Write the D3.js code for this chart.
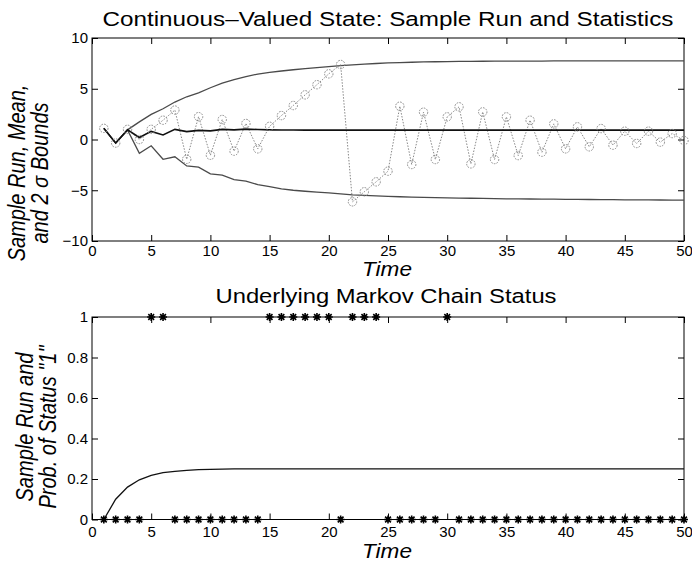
<!DOCTYPE html>
<html><head><meta charset="utf-8">
<script src="https://cdn.jsdelivr.net/npm/d3@7"></script>
<style>
body{margin:0;background:#fff;}
text{font-family:"Liberation Sans",Arial,Helvetica,sans-serif;fill:#000;}
</style></head>
<body>
<svg id="c" width="692" height="564"></svg>
<script>
const times = d3.range(1, 51);
const sampleRun = [1.1, -0.35, 1.0, 0.0, 1.0, 1.9, 2.9, -1.95, 2.25, -1.55, 1.97, -1.15, 1.58, -0.92, 1.3, 2.36, 3.35, 4.4, 5.4, 6.47, 7.39, -6.14, -5.15, -4.17, -3.12, 3.28, -2.46, 2.69, -1.97, 2.23, 3.22, -2.4, 2.72, -1.97, 2.23, -1.58, 1.9, -1.25, 1.54, -0.92, 1.25, -0.72, 1.08, -0.56, 0.82, -0.39, 0.82, -0.26, 0.59, -0.1];
const meanVals = [1.1, -0.35, 0.95, 0.2, 0.8, 0.45, 1.0, 0.78, 0.9, 0.85, 1.0, 0.95, 1.02, 0.98, 0.95, 0.93, 0.93, 0.92, 0.92, 0.92, 0.92, 0.92, 0.92, 0.92, 0.92, 0.92, 0.92, 0.92, 0.92, 0.92, 0.92, 0.92, 0.92, 0.92, 0.92, 0.92, 0.92, 0.92, 0.92, 0.92, 0.92, 0.92, 0.92, 0.92, 0.92, 0.92, 0.92, 0.92, 0.92, 0.92];
const upperVals = [1.1, -0.35, 0.95, 1.74, 2.47, 3.03, 3.69, 4.21, 4.6, 5.1, 5.55, 5.9, 6.2, 6.45, 6.62, 6.75, 6.87, 6.98, 7.08, 7.18, 7.28, 7.36, 7.43, 7.49, 7.54, 7.58, 7.61, 7.64, 7.66, 7.68, 7.69, 7.7, 7.71, 7.72, 7.72, 7.73, 7.73, 7.73, 7.74, 7.74, 7.74, 7.74, 7.74, 7.75, 7.75, 7.75, 7.75, 7.75, 7.75, 7.75];
const lowerVals = [1.1, -0.35, 0.95, -1.35, -0.62, -1.95, -1.7, -2.6, -2.73, -3.39, -3.52, -3.95, -4.1, -4.44, -4.65, -4.87, -5.0, -5.1, -5.18, -5.26, -5.35, -5.45, -5.51, -5.56, -5.6, -5.64, -5.67, -5.7, -5.73, -5.75, -5.77, -5.79, -5.81, -5.83, -5.84, -5.85, -5.86, -5.87, -5.88, -5.89, -5.9, -5.91, -5.92, -5.93, -5.94, -5.95, -5.95, -5.96, -5.97, -5.98];
const statusRun = [0,0,0,0,1,1,0,0,0,0,0,0,0,0,1,1,1,1,1,1,0,1,1,1,0,0,0,0,0,1,0,0,0,0,0,0,0,0,0,0,0,0,0,0,0,0,0,0,0,0];
const probOne = [0, 0.1, 0.16, 0.196, 0.218, 0.231, 0.238, 0.243, 0.246, 0.248, 0.249, 0.25, 0.25, 0.25, 0.25, 0.25, 0.25, 0.25, 0.25, 0.25, 0.25, 0.25, 0.25, 0.25, 0.25, 0.25, 0.25, 0.25, 0.25, 0.25, 0.25, 0.25, 0.25, 0.25, 0.25, 0.25, 0.25, 0.25, 0.25, 0.25, 0.25, 0.25, 0.25, 0.25, 0.25, 0.25, 0.25, 0.25, 0.25, 0.25];
const xTicks = [0,5,10,15,20,25,30,35,40,45,50];
const yTicksTop = [-10,-5,0,5,10];
const yTicksBottom = [0,0.2,0.4,0.6,0.8,1];
const yTickLabelsBottom = ["0","0.2","0.4","0.6","0.8","1"];

const svg = d3.select("#c");
const L = 92, R = 684;

function frame(g, x, y, yTicks, yFmt, xPad) {
  const [y0, y1] = y.range();
  const top = Math.min(y0, y1), bot = Math.max(y0, y1);
  const tl = 6;
  const ax = (gen, tr) => g.append("g").attr("transform", tr).call(gen)
    .call(s => s.select(".domain").remove())
    .call(s => s.selectAll("line").attr("stroke", "#000").attr("stroke-width", 1));
  ax(d3.axisBottom(x).tickValues(xTicks).tickSize(-tl).tickPadding(xPad).tickFormat(d3.format("d")), `translate(0,${bot})`)
    .selectAll("text").attr("font-size", 15).attr("dy", "0.75em");
  ax(d3.axisTop(x).tickValues(xTicks).tickSize(-tl).tickFormat(""), `translate(0,${top})`);
  ax(d3.axisLeft(y).tickValues(yTicks).tickSize(-tl).tickPadding(4).tickFormat(yFmt), `translate(${L},0)`)
    .selectAll("text").attr("font-size", 15);
  ax(d3.axisRight(y).tickValues(yTicks).tickSize(-tl).tickFormat(""), `translate(${R},0)`);
  g.selectAll(".tick text").attr("fill", "#000").attr("font-family", '"Liberation Sans",Arial,sans-serif');
  g.append("rect").attr("x", L).attr("y", top).attr("width", R - L).attr("height", bot - top)
    .attr("fill", "none").attr("stroke", "#000").attr("stroke-width", 1);
}

// ---------- Top panel ----------
const gTop = svg.append("g");
const xT = d3.scaleLinear().domain([0, 50]).range([L, R]);
const yT = d3.scaleLinear().domain([-10, 10]).range([241, 38]);
frame(gTop, xT, yT, yTicksTop, d3.format("d"), 4);

const lineT = vals => d3.line().x((d, i) => xT(times[i])).y((d) => yT(d))(vals);
gTop.append("path").attr("d", lineT(upperVals)).attr("fill", "none").attr("stroke", "#4a4a4a").attr("stroke-width", 1.3);
gTop.append("path").attr("d", lineT(lowerVals)).attr("fill", "none").attr("stroke", "#4a4a4a").attr("stroke-width", 1.3);
gTop.append("path").attr("d", lineT(sampleRun)).attr("fill", "none").attr("stroke", "#888").attr("stroke-width", 1).attr("stroke-dasharray", "1.5,1.5");
gTop.append("path").attr("d", lineT(meanVals)).attr("fill", "none").attr("stroke", "#111").attr("stroke-width", 1.6);
gTop.selectAll("circle.run").data(sampleRun).join("circle").attr("class", "run")
  .attr("cx", (d, i) => xT(times[i])).attr("cy", d => yT(d)).attr("r", 4.2)
  .attr("fill", "none").attr("stroke", "#8a8a8a").attr("stroke-width", 1).attr("stroke-dasharray", "1.6,1.2");

svg.append("text").attr("x", 388).attr("y", 26).attr("text-anchor", "middle").attr("font-size", 20.5)
  .attr("textLength", 571).attr("lengthAdjust", "spacingAndGlyphs")
  .text("Continuous\u2013Valued State: Sample Run and Statistics");
svg.append("text").attr("x", 387).attr("y", 276).attr("text-anchor", "middle").attr("font-size", 20).attr("font-style", "italic")
  .attr("textLength", 50).attr("lengthAdjust", "spacingAndGlyphs").text("Time");
const ylT = svg.append("text").attr("transform", "translate(25,173) scale(1.15,1) rotate(-90)").attr("text-anchor", "middle")
  .attr("font-size", 20).attr("font-style", "italic");
ylT.append("tspan").attr("x", 0).attr("y", 0).text("Sample Run, Mean,");
ylT.append("tspan").attr("x", 0).attr("y", 20).text("and 2 \u03c3 Bounds");

// ---------- Bottom panel ----------
const gBot = svg.append("g");
const xB = d3.scaleLinear().domain([0, 50]).range([L, R]);
const yB = d3.scaleLinear().domain([0, 1]).range([519.5, 317]);
frame(gBot, xB, yB, yTicksBottom, (d, i) => yTickLabelsBottom[i], 6);

gBot.append("path").attr("d", d3.line().x((d, i) => xB(times[i])).y(d => yB(d))(probOne))
  .attr("fill", "none").attr("stroke", "#111").attr("stroke-width", 1.3);

const starType = {
  draw(ctx, size) {
    const r = Math.sqrt(size) / 2, q = r * 0.72;
    ctx.moveTo(-r, 0); ctx.lineTo(r, 0);
    ctx.moveTo(0, -r); ctx.lineTo(0, r);
    ctx.moveTo(-q, -q); ctx.lineTo(q, q);
    ctx.moveTo(-q, q); ctx.lineTo(q, -q);
  }
};
gBot.selectAll("path.star").data(statusRun).join("path").attr("class", "star")
  .attr("transform", (d, i) => `translate(${xB(times[i])},${yB(d)})`)
  .attr("d", d3.symbol().type(starType).size(64))
  .attr("fill", "none").attr("stroke", "#000").attr("stroke-width", 1.6);

svg.append("text").attr("x", 386).attr("y", 303).attr("text-anchor", "middle").attr("font-size", 20.5)
  .attr("textLength", 341).attr("lengthAdjust", "spacingAndGlyphs").text("Underlying Markov Chain Status");
svg.append("text").attr("x", 387).attr("y", 558).attr("text-anchor", "middle").attr("font-size", 20).attr("font-style", "italic")
  .attr("textLength", 50).attr("lengthAdjust", "spacingAndGlyphs").text("Time");
const ylB = svg.append("text").attr("transform", "translate(33,427) scale(1.15,1) rotate(-90)").attr("text-anchor", "middle")
  .attr("font-size", 20).attr("font-style", "italic");
ylB.append("tspan").attr("x", 0).attr("y", 0).text("Sample Run and");
ylB.append("tspan").attr("x", 0).attr("y", 20).text("Prob. of Status \"1\"");
</script>
</body></html>
